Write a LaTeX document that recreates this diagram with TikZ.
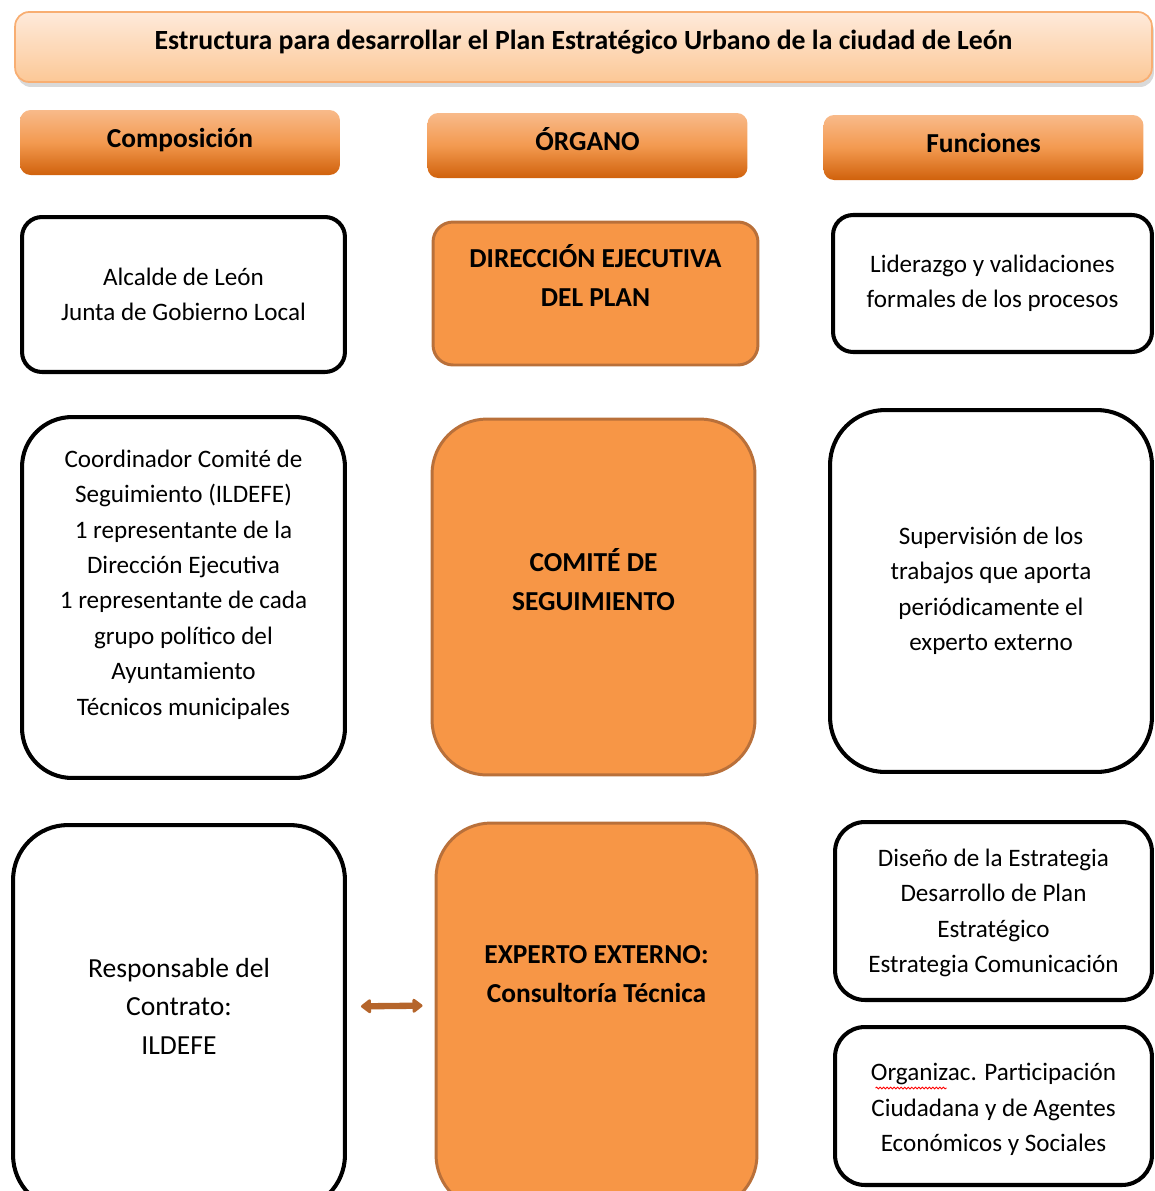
\documentclass[tikz,border=0pt]{standalone}
\usepackage{fontspec}
\setmainfont{Carlito}
\usepackage{xcolor}
\usetikzlibrary{arrows.meta, positioning, shadows, decorations.pathmorphing}

\definecolor{orangefill}{HTML}{F79646}
\definecolor{orangeline}{HTML}{B9703A}
\definecolor{arrowcol}{HTML}{B5652B}
\definecolor{headtop}{HTML}{F8BA8A}
\definecolor{headmid}{HTML}{F39A50}
\definecolor{headbot}{HTML}{D0610C}
\definecolor{titletop}{HTML}{FEEADB}
\definecolor{titlebot}{HTML}{FCC896}
\definecolor{titleline}{HTML}{F8AE72}

\begin{document}
\begin{tikzpicture}[x=0.02cm, y=-0.02cm,
			title/.style={draw=titleline, line width=1pt, rounded corners=8pt, top color=titletop, bottom color=titlebot, drop shadow={opacity=0.3, shadow xshift=0.4mm, shadow yshift=-1mm}, minimum width=22.74cm, minimum height=1.4cm, text height=10pt, text depth=7.7pt, font=\fontsize{15.8}{19}\selectfont\bfseries},
			header/.style={rounded corners=6pt, top color=headtop, bottom color=headbot, middle color=headmid, minimum width=6.4cm, minimum height=1.3cm, text height=10pt, text depth=4pt, font=\fontsize{15.6}{19}\selectfont\bfseries},
			box/.style={draw, line width=2.3pt, align=center, inner sep=0pt, font=\fontsize{14.3}{20.2}\selectfont},
			organ/.style={draw=orangeline, fill=orangefill, line width=1.7pt, align=center, inner sep=0pt, font=\fontsize{15.6}{22.2}\selectfont\bfseries},
			arrow/.style={arrowcol, line width=3.6pt, {Triangle[round, length=2.2mm, width=3.2mm]}-{Triangle[round, length=2.2mm, width=3.2mm]}},
			wave/.style={red, line width=0.5pt, decorate, decoration={snake, amplitude=0.5pt, segment length=2pt}}
		]
		\clip (0,0) rectangle (1154,1191);

		% Title and headers
		\node[title] (title) at (583.5,47) {Estructura para desarrollar el Plan Estratégico Urbano de la ciudad de León};
		\node[header] (composicion) at (180,142.5) {Composición};
		\node[header] (organo) at (587.5,145.5) {ÓRGANO};
		\node[header] (funciones) at (983.5,147.5) {Funciones};

		% First row
		\node[box, rounded corners=0.4cm, minimum width=6.46cm, minimum height=3.1cm] (alcalde) at (183.5,294.5) {Alcalde de León\\Junta de Gobierno Local};
		\node[organ, rounded corners=0.4cm, minimum width=6.5cm, minimum height=2.86cm] (direccion) at (595.5,293.5) {DIRECCIÓN EJECUTIVA\\DEL PLAN\\[-0.06cm]\mbox{}};
		\node[box, rounded corners=0.4cm, minimum width=6.38cm, minimum height=2.74cm] (liderazgo) at (992.5,283.5) {Liderazgo y validaciones\\formales de los procesos};

		% Second row
		\node[box, rounded corners=1cm, minimum width=6.46cm, minimum height=7.22cm] (coordinador) at (183.5,597.5) {Coordinador Comité de\\Seguimiento (ILDEFE)\\1 representante de la\\Dirección Ejecutiva\\1 representante de cada\\grupo político del\\Ayuntamiento\\Técnicos municipales\\[-0.11cm]\mbox{}};
		\node[organ, rounded corners=1.1cm, minimum width=6.46cm, minimum height=7.12cm] (comite) at (593.5,597) {COMITÉ DE\\SEGUIMIENTO\\[-0.08cm]\mbox{}};
		\node[box, rounded corners=1.1cm, minimum width=6.44cm, minimum height=7.24cm] (supervision) at (991,591) {Supervisión de los\\trabajos que aporta\\periódicamente el\\experto externo};

		% Third row
		\node[box, rounded corners=1.1cm, minimum width=6.64cm, minimum height=7.7cm, font=\fontsize{15.7}{21.9}\selectfont] (responsable) at (179,1017.5) {Responsable del\\Contrato:\\ILDEFE\\[-0.31cm]\mbox{}};
		\node[organ, rounded corners=1.1cm, minimum width=6.42cm, minimum height=7.74cm] (experto) at (596.5,1016.5) {EXPERTO EXTERNO:\\Consultoría Técnica\\[0.94cm]\mbox{}};
		\node[box, rounded corners=0.6cm, minimum width=6.34cm, minimum height=3.56cm] (diseno) at (993.5,911) {\rule{0pt}{12pt}Diseño de la Estrategia\\Desarrollo de Plan\\Estratégico\\Estrategia Comunicación};
		\node[box, rounded corners=0.6cm, minimum width=6.34cm, minimum height=3.16cm] (organizacion) at (993.5,1106) {\rule{0pt}{14pt}Organizac. Participación\\Ciudadana y de Agentes\\Económicos y Sociales};

		% Spelling mark and double arrow
		\draw[wave] ([xshift=-2.36cm, yshift=0.36cm]organizacion.center) -- ([xshift=-0.94cm, yshift=0.36cm]organizacion.center);
		\draw[arrow, shorten <=0.28cm, shorten >=0.24cm] ([yshift=0.22cm]responsable.east) -- ([yshift=0.22cm]experto.west);

		\end{tikzpicture}
\end{document}
